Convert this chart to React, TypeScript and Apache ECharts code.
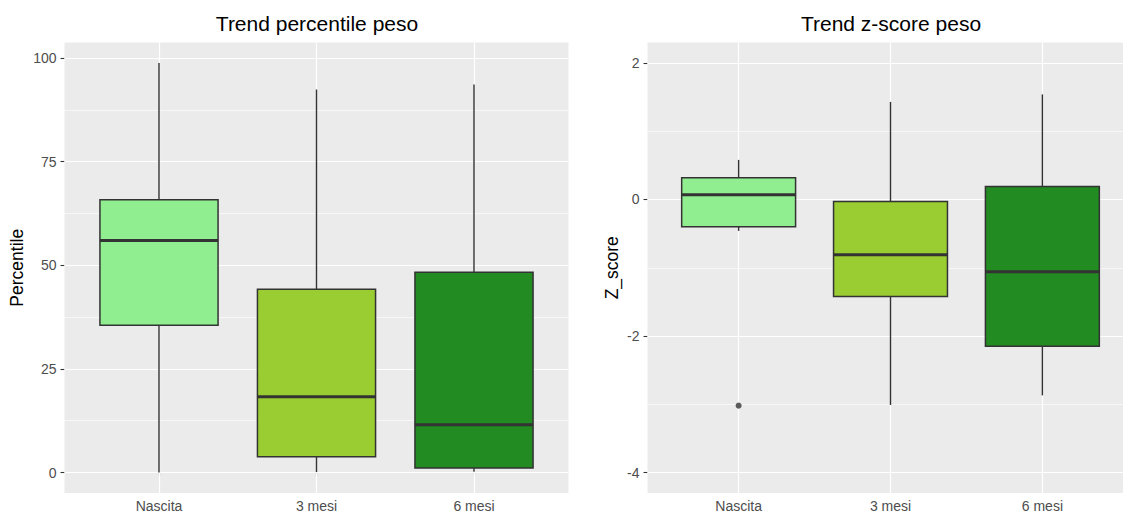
import React, { useEffect, useRef } from "react";
import * as echarts from "echarts";

const categories = ["Nascita", "3 mesi", "6 mesi"];
const boxColors = ["#90EE90", "#9ACD32", "#228B22"];

// [lower whisker, Q1, median, Q3, upper whisker]
const percentileBoxes = [
  [0, 35.5, 56.0, 65.8, 98.8],
  [0.1, 3.8, 18.3, 44.2, 92.4],
  [0.2, 1.1, 11.5, 48.3, 93.6],
];
const zscoreBoxes = [
  [-0.46, -0.4, 0.07, 0.32, 0.58],
  [-3.01, -1.42, -0.81, -0.03, 1.43],
  [-2.87, -2.15, -1.06, 0.19, 1.54],
];
// [category, value]
const zscoreOutliers: [string, number][] = [["Nascita", -3.02]];

const percentileTicks = [0, 25, 50, 75, 100];
const percentileMinor = [12.5, 37.5, 62.5, 87.5];
const zscoreTicks = [-4, -2, 0, 2];
const zscoreMinor = [-3, -1, 1];
const zscoreLimits = [-4, 2];

const FONT = "'Liberation Sans', Arial, sans-serif";

function expand(lo: number, hi: number) {
  const r = hi - lo;
  return [lo - r * 0.05, hi + r * 0.05];
}

export default function App() {
  const ref = useRef<HTMLDivElement>(null);

  useEffect(() => {
    if (!ref.current) return;
    const chart = echarts.init(ref.current, undefined, { renderer: "svg" });

    const allP = percentileBoxes.flat();
    const [pMin, pMax] = expand(Math.min(...allP), Math.max(...allP));
    const [zMin, zMax] = expand(zscoreLimits[0], zscoreLimits[1]);

    const catPos = categories.map((_, i) => i + 1);

    const xAxisBase = (gridIndex: number) => ({
      type: "value",
      gridIndex,
      min: 0.4,
      max: 3.6,
      axisLine: { show: false },
      splitLine: { show: false },
      axisTick: {
        show: true,
        length: 4,
        customValues: catPos,
        lineStyle: { color: "#333333", width: 1.1 },
      },
      axisLabel: {
        customValues: catPos,
        margin: 6,
        color: "#4D4D4D",
        fontSize: 14,
        fontFamily: FONT,
        formatter: (v: number) => categories[Math.round(v) - 1] ?? "",
      },
    });

    const yAxisBase = (
      gridIndex: number,
      min: number,
      max: number,
      ticks: number[],
      name: string,
      nameGap: number
    ) => ({
      type: "value",
      gridIndex,
      min,
      max,
      name,
      nameLocation: "middle",
      nameGap,
      nameTextStyle: { color: "#000000", fontSize: 17.5, fontFamily: FONT },
      axisLine: { show: false },
      splitLine: { show: false },
      axisTick: {
        show: true,
        length: 4,
        customValues: ticks,
        lineStyle: { color: "#333333", width: 1.1 },
      },
      axisLabel: {
        customValues: ticks,
        margin: 8,
        color: "#4D4D4D",
        fontSize: 14,
        fontFamily: FONT,
      },
    });

    const gridLines = (major: number[], minor: number[]) => ({
      silent: true,
      symbol: "none",
      animation: false,
      label: { show: false },
      emphasis: { disabled: true },
      data: [
        ...minor.map((v) => ({ yAxis: v, lineStyle: { color: "#FFFFFF", width: 0.6, type: "solid" } })),
        ...major.map((v) => ({ yAxis: v, lineStyle: { color: "#FFFFFF", width: 1.2, type: "solid" } })),
        ...catPos.map((v) => ({ xAxis: v, lineStyle: { color: "#FFFFFF", width: 1.2, type: "solid" } })),
      ],
    });

    const renderBox = (params: any, api: any) => {
      const x = api.value(0);
      const lo = api.coord([x, api.value(1)]);
      const q1 = api.coord([x, api.value(2)]);
      const med = api.coord([x, api.value(3)]);
      const q3 = api.coord([x, api.value(4)]);
      const hi = api.coord([x, api.value(5)]);
      const half = api.size([0.75, 0])[0] / 2;
      const cx = q1[0];
      const fill = boxColors[params.dataIndex];
      const stroke = "#333333";
      return {
        type: "group",
        children: [
          { type: "line", shape: { x1: cx, y1: hi[1], x2: cx, y2: q3[1] }, style: { stroke, lineWidth: 1.4 } },
          { type: "line", shape: { x1: cx, y1: q1[1], x2: cx, y2: lo[1] }, style: { stroke, lineWidth: 1.4 } },
          {
            type: "rect",
            shape: { x: cx - half, y: q3[1], width: half * 2, height: q1[1] - q3[1] },
            style: { fill, stroke, lineWidth: 1.5 },
          },
          {
            type: "line",
            shape: { x1: cx - half, y1: med[1], x2: cx + half, y2: med[1] },
            style: { stroke, lineWidth: 3 },
          },
        ],
      };
    };

    const boxData = (boxes: number[][]) => boxes.map((b, i) => [i + 1, ...b]);

    const option: any = {
      animation: false,
      backgroundColor: "#FFFFFF",
      grid: [
        { left: 64.5, width: 504, top: 42.5, bottom: 20, show: true, backgroundColor: "#EBEBEB", borderWidth: 0 },
        { left: 647.5, width: 486, top: 42.5, bottom: 20, show: true, backgroundColor: "#EBEBEB", borderWidth: 0 },
      ],
      xAxis: [xAxisBase(0), xAxisBase(1)],
      yAxis: [
        yAxisBase(0, pMin, pMax, percentileTicks, "Percentile", 39),
        yAxisBase(1, zMin, zMax, zscoreTicks, "Z_score", 27),
      ],
      graphic: [
        {
          type: "text",
          x: 317,
          y: 23,
          style: { text: "Trend percentile peso", fill: "#000", font: `21px ${FONT}`, align: "center", verticalAlign: "middle" },
        },
        {
          type: "text",
          x: 891,
          y: 23,
          style: { text: "Trend z-score peso", fill: "#000", font: `21px ${FONT}`, align: "center", verticalAlign: "middle" },
        },
      ],
      series: [
        { type: "line", xAxisIndex: 0, yAxisIndex: 0, data: [], z: 1, markLine: gridLines(percentileTicks, percentileMinor) },
        { type: "line", xAxisIndex: 1, yAxisIndex: 1, data: [], z: 1, markLine: gridLines(zscoreTicks, zscoreMinor) },
        {
          type: "custom",
          xAxisIndex: 0,
          yAxisIndex: 0,
          z: 5,
          renderItem: renderBox,
          encode: { x: 0, y: [1, 2, 3, 4, 5] },
          data: boxData(percentileBoxes),
        },
        {
          type: "custom",
          xAxisIndex: 1,
          yAxisIndex: 1,
          z: 5,
          renderItem: renderBox,
          encode: { x: 0, y: [1, 2, 3, 4, 5] },
          data: boxData(zscoreBoxes),
        },
        {
          type: "scatter",
          xAxisIndex: 1,
          yAxisIndex: 1,
          z: 6,
          symbol: "circle",
          symbolSize: 6,
          itemStyle: { color: "#333333" },
          data: zscoreOutliers.map(([c, v]) => [categories.indexOf(c) + 1, v]),
        },
      ],
    };

    chart.setOption(option);
    return () => chart.dispose();
  }, []);

  return (
    <div style={{ position: "fixed", left: 0, top: 0, width: 1123, height: 513, overflow: "hidden" }}>
      <div ref={ref} style={{ position: "absolute", left: 0, top: 0, width: 1140, height: 513 }} />
    </div>
  );
}
